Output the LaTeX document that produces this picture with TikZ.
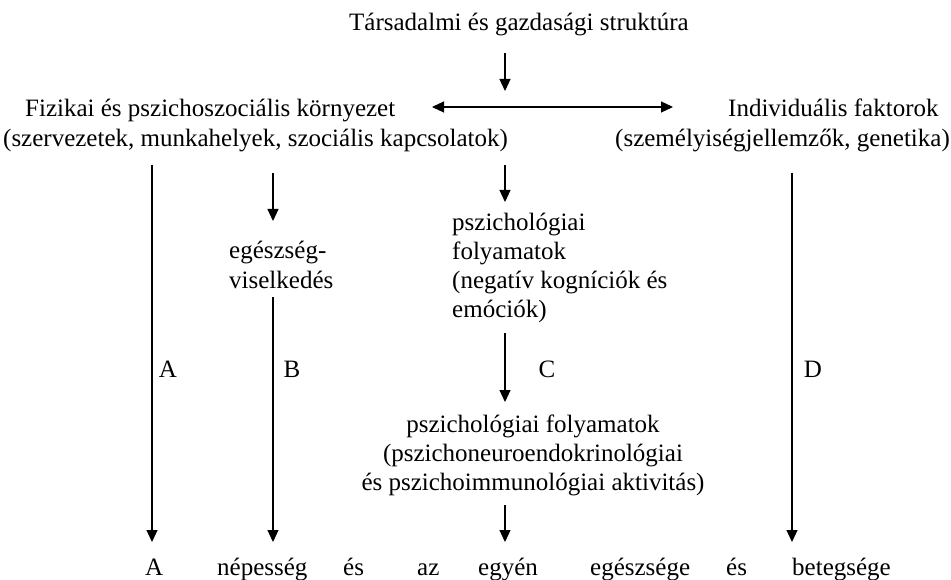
\documentclass[tikz,border=0pt]{standalone}
\usepackage{fontspec}
\setmainfont{Liberation Serif}
\usetikzlibrary{arrows.meta}

\begin{document}
\begin{tikzpicture}[x=1pt, y=-1pt]
        % Definitions
        \def\colA{152}
        \def\colB{273}
        \def\colC{505}
        \def\colD{792}
        \def\yBot{542}
        \def\yLbl{377}

        % Styles
        \tikzstyle{txt} = [inner sep=0pt, font=\fontsize{25}{29}\selectfont]
        \tikzstyle{arr} = [draw, -{Triangle[length=12pt, width=11pt]}, line width=1.1pt, black]
        \tikzstyle{path} = [txt, anchor=base]

        \useasboundingbox (0,0) rectangle (951,580);

        % Headings
        \node[txt, anchor=base west] (title) at (349,31) {Társadalmi és gazdasági struktúra};
        \node[txt, anchor=base west] (envA) at (25,117) {Fizikai és pszichoszociális környezet};
        \node[txt, anchor=base west] (envB) at (3,147) {(szervezetek, munkahelyek, szociális kapcsolatok)};
        \node[txt, anchor=base west] (indA) at (728,117) {Individuális faktorok};
        \node[txt, anchor=base east] (indB) at (950,147) {(személyiségjellemzők, genetika)};

        % Mediators (base = last line)
        \node[txt, anchor=base west, align=left] (beh) at (229,288) {egészség-\\viselkedés};
        \node[txt, anchor=base west, align=left] (psyA) at (452,317) {pszichológiai\\folyamatok\\(negatív kogníciók és\\emóciók)};
        \node[txt, anchor=base, align=center] (psyB) at (533,490) {pszichológiai folyamatok\\(pszichoneuroendokrinológiai\\és pszichoimmunológiai aktivitás)};

        % Outcome
        \foreach \x/\w [count=\i] in {145/A, 217/népesség, 343/és, 417/az, 478/egyén, 590/egészsége, 726/és, 792/betegsége} {
            \node[txt, anchor=base west] (out\i) at (\x,575) {\w};
        }

        % Path labels
        \node[path] (pathA) at (168,\yLbl) {A};
        \node[path] (pathB) at (292,\yLbl) {B};
        \node[path] (pathC) at (547,\yLbl) {C};
        \node[path] (pathD) at (813,\yLbl) {D};

        % Arrow ends
        \coordinate (top0) at (\colC,53);   \coordinate (top1) at (\colC,91);
        \coordinate (env0) at (432,107);    \coordinate (ind0) at (673,107);
        \coordinate (A0) at (\colA,165);    \coordinate (A1) at (\colA,\yBot);
        \coordinate (B0) at (\colB,173);    \coordinate (B1) at (\colB,221);
        \coordinate (B2) at (\colB,297);    \coordinate (B3) at (\colB,\yBot);
        \coordinate (C0) at (\colC,165);    \coordinate (C1) at (\colC,202);
        \coordinate (C2) at (\colC,333);    \coordinate (C3) at (\colC,402);
        \coordinate (C4) at (\colC,505);    \coordinate (C5) at (\colC,\yBot);
        \coordinate (D0) at (\colD,173);    \coordinate (D1) at (\colD,\yBot);

        % Arrows
        \draw[arr] (top0) -- (top1);
        \draw[arr, {Triangle[length=12pt, width=11pt]}-{Triangle[length=12pt, width=11pt]}] (env0) -- (ind0);
        \draw[arr] (A0) -- (A1);
        \draw[arr] (B0) -- (B1);
        \draw[arr] (B2) -- (B3);
        \draw[arr] (C0) -- (C1);
        \draw[arr] (C2) -- (C3);
        \draw[arr] (C4) -- (C5);
        \draw[arr] (D0) -- (D1);

    \end{tikzpicture}
\end{document}
